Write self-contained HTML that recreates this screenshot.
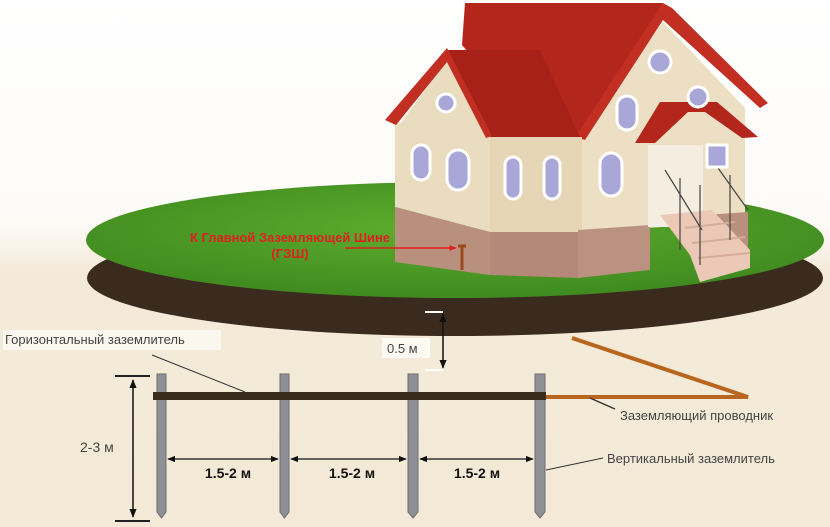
<!DOCTYPE html>
<html><head><meta charset="utf-8"><style>
html,body{margin:0;padding:0;background:#fff}
svg{display:block}
text{font-family:"Liberation Sans",sans-serif}
</style></head><body>
<svg width="830" height="527" viewBox="0 0 830 527" xmlns="http://www.w3.org/2000/svg">
<defs>
<linearGradient id="bg" x1="0" y1="0" x2="0" y2="1">
<stop offset="0" stop-color="#ffffff"/><stop offset="0.42" stop-color="#fdfbf7"/><stop offset="0.52" stop-color="#f4ead9"/><stop offset="1" stop-color="#f3e9d6"/>
</linearGradient>
<radialGradient id="grass" cx="0.5" cy="0.4" r="0.6">
<stop offset="0" stop-color="#5fae2e"/><stop offset="1" stop-color="#3f8a1f"/>
</radialGradient>
<marker id="ah" viewBox="0 0 10 10" refX="9" refY="5" markerWidth="6" markerHeight="6" orient="auto-start-reverse"><path d="M0,1 L10,5 L0,9 z" fill="#111"/></marker>
<marker id="ar" viewBox="0 0 10 10" refX="9" refY="5" markerWidth="5" markerHeight="5" orient="auto"><path d="M0,1 L10,5 L0,9 z" fill="#e02020"/></marker>
</defs>
<rect width="830" height="527" fill="url(#bg)"/>
<ellipse cx="455" cy="278" rx="368" ry="58" fill="#3b2a1e"/>
<ellipse cx="455" cy="240" rx="369" ry="58" fill="url(#grass)"/>
<polygon points="465,3 663,3 600,110 580,137 540,137 462,45" fill="#b3261c"/>
<polygon points="578,140 663,22 745,108 745,222 578,232" fill="#ecdfc4"/>
<polygon points="663,3 672,8 768,103 760,108 663,20 585,140 575,137" fill="#c22e22"/>
<polygon points="395,122 490,137 490,232 395,207" fill="#eadcbf"/>
<polygon points="447,60 400,124 488,138" fill="#eadcbf"/>
<polygon points="447,50 540,50 580,137 490,137" fill="#a82119"/>
<polygon points="447,48 385,120 396,125 447,62 486,138 492,136" fill="#c22e22"/>
<polygon points="490,137 582,137 582,232 490,235" fill="#e6d6b6"/>
<polygon points="395,207 490,232 490,275 395,262" fill="#b98f7e"/>
<polygon points="490,232 580,232 580,278 490,275" fill="#b4897a"/>
<polygon points="578,230 650,225 650,270 578,278" fill="#bb9282"/>
<polygon points="705,215 748,212 748,250 705,255" fill="#b98f7e"/>
<rect x="648" y="145" width="55" height="82" fill="#f4ede0"/>
<polygon points="635,143 660,102 717,102 758,137 742,138 705,112 688,112 655,143" fill="#b3261c"/>
<polygon points="660,215 712,210 750,250 750,268 700,282 690,255" fill="#ecc9b7"/>
<line x1="685" y1="228" x2="735" y2="222" stroke="#d4ad9a" stroke-width="2"/>
<line x1="692" y1="243" x2="745" y2="237" stroke="#d4ad9a" stroke-width="2"/>
<line x1="698" y1="258" x2="750" y2="253" stroke="#d4ad9a" stroke-width="2"/>
<path d="M665,170 L702,230 M718,168 L748,210 M680,178 L680,250 M700,185 L700,265 M730,175 L730,240" stroke="#444" stroke-width="1.2" fill="none"/>
<g fill="#a9a6d8" stroke="#fff" stroke-width="3">
<rect x="412" y="145" width="18" height="35" rx="9"/>
<rect x="447" y="150" width="22" height="40" rx="11"/>
<rect x="505" y="157" width="16" height="42" rx="8"/>
<rect x="544" y="157" width="16" height="42" rx="8"/>
<rect x="600" y="153" width="22" height="43" rx="11"/>
<rect x="617" y="96" width="20" height="34" rx="10"/>
<circle cx="446" cy="103" r="9"/>
<circle cx="660" cy="62" r="11"/>
<circle cx="698" cy="97" r="10"/>
<rect x="707" y="145" width="20" height="22"/>
</g>
<text x="290" y="242" font-size="13" font-weight="bold" fill="#e02020" text-anchor="middle" textLength="200" lengthAdjust="spacingAndGlyphs">К Главной Заземляющей Шине</text>
<text x="290" y="258" font-size="13" font-weight="bold" fill="#e02020" text-anchor="middle">(ГЗШ)</text>
<line x1="345" y1="248" x2="456" y2="248" stroke="#e02020" stroke-width="1.5" marker-end="url(#ar)"/>
<path d="M458,246 L466,246 M462,246 L462,270" stroke="#9a4a1a" stroke-width="3"/>
<polyline points="572,338 748,397 545,397" fill="none" stroke="#b8651f" stroke-width="4"/>
<g fill="#8f8f96" stroke="#6c6c72" stroke-width="1">
<path d="M157,374 h9 v138 l-4.5,6 l-4.5,-6 z"/>
<path d="M280,374 h9 v138 l-4.5,6 l-4.5,-6 z"/>
<path d="M408,374 h10 v138 l-5,6 l-5,-6 z"/>
<path d="M535,374 h10 v138 l-5,6 l-5,-6 z"/>
</g>
<rect x="153" y="392" width="393" height="8" fill="#3a2c1c"/>
<line x1="115" y1="376" x2="150" y2="376" stroke="#222" stroke-width="2"/>
<line x1="115" y1="521" x2="150" y2="521" stroke="#222" stroke-width="2"/>
<line x1="133" y1="380" x2="133" y2="517" stroke="#111" stroke-width="1.5" marker-start="url(#ah)" marker-end="url(#ah)"/>
<text x="80" y="452" font-size="14" fill="#444">2-3 м</text>
<g stroke="#111" stroke-width="1.3">
<line x1="168" y1="459" x2="278" y2="459" marker-start="url(#ah)" marker-end="url(#ah)"/>
<line x1="291" y1="459" x2="406" y2="459" marker-start="url(#ah)" marker-end="url(#ah)"/>
<line x1="420" y1="459" x2="533" y2="459" marker-start="url(#ah)" marker-end="url(#ah)"/>
</g>
<g font-size="14" font-weight="bold" fill="#111" text-anchor="middle">
<text x="228" y="478">1.5-2 м</text>
<text x="352" y="478">1.5-2 м</text>
<text x="477" y="478">1.5-2 м</text>
</g>
<rect x="382" y="338" width="48" height="20" fill="#fdfaf4"/>
<text x="387" y="353" font-size="13" fill="#444">0.5 м</text>
<path d="M425,312 L443,312 M425,370 L443,370" stroke="#fff" stroke-width="2"/>
<line x1="443" y1="314" x2="443" y2="368" stroke="#111" stroke-width="1.5" marker-start="url(#ah)" marker-end="url(#ah)"/>
<rect x="3" y="330" width="218" height="20" fill="#fbf7ef"/>
<text x="5" y="344" font-size="13" fill="#444">Горизонтальный заземлитель</text>
<line x1="152" y1="355" x2="245" y2="392" stroke="#333" stroke-width="1"/>
<text x="620" y="420" font-size="13" fill="#444">Заземляющий проводник</text>
<line x1="590" y1="398" x2="615" y2="409" stroke="#333" stroke-width="1.5"/>
<text x="607" y="463" font-size="13" fill="#444">Вертикальный заземлитель</text>
<line x1="546" y1="470" x2="603" y2="458" stroke="#333" stroke-width="1"/>
</svg>
</body></html>
